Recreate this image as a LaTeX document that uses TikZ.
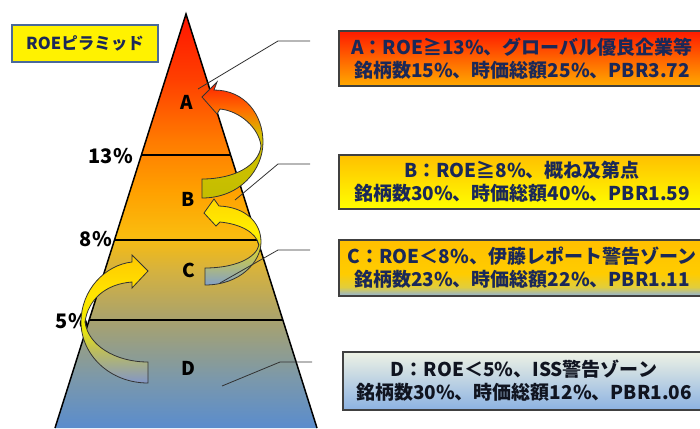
\documentclass[tikz,border=0pt]{standalone}
\usepackage{fontspec}
\setmainfont{Noto Sans CJK JP}
\usetikzlibrary{calc}
% pyramid colours
\definecolor{py0}{RGB}{90,140,205}
\definecolor{py1}{RGB}{122,152,172}
\definecolor{py2}{RGB}{168,162,110}
\definecolor{py3}{RGB}{214,178,62}
\definecolor{py4}{RGB}{250,188,14}
\definecolor{py5}{RGB}{255,160,0}
\definecolor{py6}{RGB}{255,122,0}
\definecolor{py7}{RGB}{255,64,0}
\definecolor{py8}{RGB}{255,20,0}
\pgfdeclareverticalshading{pyr}{100bp}{color(0bp)=(py0); color(25bp)=(py0); color(30.8bp)=(py1); color(38bp)=(py2); color(44.1bp)=(py3); color(48.3bp)=(py4); color(53.7bp)=(py5); color(59.8bp)=(py6); color(67bp)=(py7); color(75bp)=(py8); color(100bp)=(py8)}
% arrow colours
\definecolor{aa1}{RGB}{255,30,0}
\definecolor{aa2}{RGB}{255,110,0}
\definecolor{aa3}{RGB}{212,192,0}
\definecolor{aa4}{RGB}{195,190,0}
\pgfdeclareverticalshading{arrA}{100bp}{color(0bp)=(aa4); color(25bp)=(aa4); color(52bp)=(aa3); color(63bp)=(aa2); color(75bp)=(aa1); color(100bp)=(aa1)}
\definecolor{ab1}{RGB}{255,215,0}
\definecolor{ab2}{RGB}{255,240,0}
\definecolor{ab3}{RGB}{200,200,80}
\definecolor{ab4}{RGB}{130,160,200}
\pgfdeclareverticalshading{arrB}{100bp}{color(0bp)=(ab4); color(25bp)=(ab4); color(42bp)=(ab3); color(55bp)=(ab2); color(75bp)=(ab1); color(100bp)=(ab1)}
\definecolor{ac1}{RGB}{255,200,0}
\definecolor{ac2}{RGB}{255,228,0}
\definecolor{ac3}{RGB}{240,235,0}
\definecolor{ac4}{RGB}{190,190,90}
\definecolor{ac5}{RGB}{130,150,200}
\pgfdeclareverticalshading{arrC}{100bp}{color(0bp)=(ac5); color(25bp)=(ac5); color(38bp)=(ac4); color(47bp)=(ac3); color(60bp)=(ac2); color(75bp)=(ac1); color(100bp)=(ac1)}
% box colours
\definecolor{ba1}{RGB}{255,26,0}
\definecolor{ba2}{RGB}{255,100,0}
\definecolor{ba3}{RGB}{255,170,0}
\pgfdeclareverticalshading{boxA}{100bp}{color(0bp)=(ba3); color(25bp)=(ba3); color(50bp)=(ba2); color(75bp)=(ba1); color(100bp)=(ba1)}
\definecolor{bb1}{RGB}{255,192,0}
\definecolor{bb2}{RGB}{255,255,0}
\pgfdeclareverticalshading{boxB}{100bp}{color(0bp)=(bb2); color(25bp)=(bb2); color(75bp)=(bb1); color(100bp)=(bb1)}
\definecolor{bc1}{RGB}{255,192,0}
\definecolor{bc2}{RGB}{255,204,0}
\definecolor{bc3}{RGB}{225,205,60}
\definecolor{bc4}{RGB}{144,180,224}
\pgfdeclareverticalshading{boxC}{100bp}{color(0bp)=(bc4); color(25bp)=(bc4); color(33bp)=(bc3); color(45bp)=(bc2); color(75bp)=(bc1); color(100bp)=(bc1)}
\definecolor{bd1}{RGB}{238,242,228}
\definecolor{bd2}{RGB}{140,178,226}
\pgfdeclareverticalshading{boxD}{100bp}{color(0bp)=(bd2); color(25bp)=(bd2); color(75bp)=(bd1); color(100bp)=(bd1)}
\definecolor{navy}{RGB}{26,40,88}
\definecolor{dtext}{RGB}{16,20,32}
\definecolor{roeborder}{RGB}{74,106,154}
\definecolor{leader}{RGB}{50,50,50}
\begin{document}
\begin{tikzpicture}[x=1pt,y=-1pt,
  infobox/.style={draw=black!75, line width=1.2pt},
  infotext/.style={font=\fontsize{19}{23}\selectfont\bfseries, align=center, inner sep=0pt},
  pct/.style={font=\fontsize{20}{22}\selectfont\bfseries, anchor=east, inner sep=0pt},
  zone/.style={font=\fontsize{19}{21}\selectfont\bfseries, inner sep=0pt},
  levelline/.style={line width=1.4pt, black},
  curvarrow/.style={draw=black!80, line width=0.8pt},
  leaderline/.style={draw=leader, line width=0.8pt}]
\useasboundingbox (0,0) rectangle (700,428);
% pyramid
\coordinate (apex) at (186,14);
\coordinate (bl) at (55,428);
\coordinate (br) at (317,428);
\shade[shading=pyr] (apex) -- (br) -- (bl) -- cycle;
\draw[line width=1.5pt] (bl) -- (apex) -- (br);
\coordinate (l13a) at (141.4,155); \coordinate (l13b) at (230.6,155);
\coordinate (l8a) at (114.5,240);  \coordinate (l8b) at (257.5,240);
\coordinate (l5a) at (89.2,320);   \coordinate (l5b) at (282.8,320);
\draw[levelline] (l13a) -- (l13b);
\draw[levelline] (l8a) -- (l8b);
\draw[levelline] (l5a) -- (l5b);
\node[pct] (p13) at (133,156) {13\%};
\node[pct] (p8) at (112,239) {8\%};
\node[pct] (p5) at (88,321) {5\%};
\node[zone] (zA) at (187,102) {A};
\node[zone] (zB) at (188,199) {B};
\node[zone] (zC) at (189,270) {C};
\node[zone] (zD) at (188,368) {D};
% title box
\node[draw=roeborder, line width=2pt, fill=yellow, minimum width=146pt, minimum height=37pt, inner sep=0pt,
  font=\fontsize{16.5}{18}\selectfont\bfseries, text=navy] (title) at (85,43.5) {ROEピラミッド};
% curved arrows
\shade[shading=arrA, curvarrow] (202,97) -- (217,82) -- (214,90)
  .. controls (245,90) and (263,115) .. (263,142)
  .. controls (263,170) and (240,198) .. (202,198)
  -- (202,179)
  .. controls (235,179) and (259,165) .. (261,146)
  .. controls (259,128) and (240,111) .. (220,109)
  -- (217,114) -- cycle;
\shade[shading=arrB, curvarrow] (204,213) -- (214,199) -- (219,206)
  .. controls (245,207) and (261,222) .. (261,242)
  .. controls (261,262) and (240,285) .. (205,285)
  -- (205,268)
  .. controls (235,268) and (256,258) .. (259,245)
  .. controls (256,232) and (240,224) .. (220,222)
  -- (216,226) -- cycle;
\shade[shading=arrC, curvarrow] (148,271) -- (132,255) -- (132,262)
  .. controls (105,265) and (81,290) .. (81,322)
  .. controls (81,355) and (110,383) .. (148,383)
  -- (148,362)
  .. controls (115,362) and (88,345) .. (85,322)
  .. controls (88,300) and (105,284) .. (132,282)
  -- (132,288) -- cycle;
% info boxes
\shade[shading=boxA, infobox] (339,31) rectangle (706,86);
\shade[shading=boxB, infobox] (339,155) rectangle (706,209);
\shade[shading=boxC, infobox] (339,240) rectangle (706,296);
\shade[shading=boxD, infobox] (343,352) rectangle (706,410);
\node[infotext, text=navy] (tA) at (522,58.5) {A：ROE≧13\%、グローバル優良企業等\\銘柄数15\%、時価総額25\%、PBR3.72};
\node[infotext, text=navy] (tB) at (522,182) {B：ROE≧8\%、概ね及第点\\銘柄数30\%、時価総額40\%、PBR1.59};
\node[infotext, text=navy] (tC) at (522,268) {C：ROE＜8\%、伊藤レポート警告ゾーン\\銘柄数23\%、時価総額22\%、PBR1.11};
\node[infotext, text=dtext] (tD) at (524,381) {D：ROE＜5\%、ISS警告ゾーン\\銘柄数30\%、時価総額12\%、PBR1.06};
% leader lines
\coordinate (pA) at (198,89);  \coordinate (kA) at (278,41);  \coordinate (eA) at (310,41);
\coordinate (pB) at (235,200); \coordinate (kB) at (278,164); \coordinate (eB) at (310,164);
\coordinate (pC) at (220,283); \coordinate (kC) at (278,250); \coordinate (eC) at (310,250);
\coordinate (pD) at (222,386); \coordinate (kD) at (280,362); \coordinate (eD) at (312,362);
\draw[leaderline] (pA) -- (kA) -- (eA);
\draw[leaderline] (pB) -- (kB) -- (eB);
\draw[leaderline] (pC) -- (kC) -- (eC);
\draw[leaderline] (pD) -- (kD) -- (eD);
\end{tikzpicture}
\end{document}
